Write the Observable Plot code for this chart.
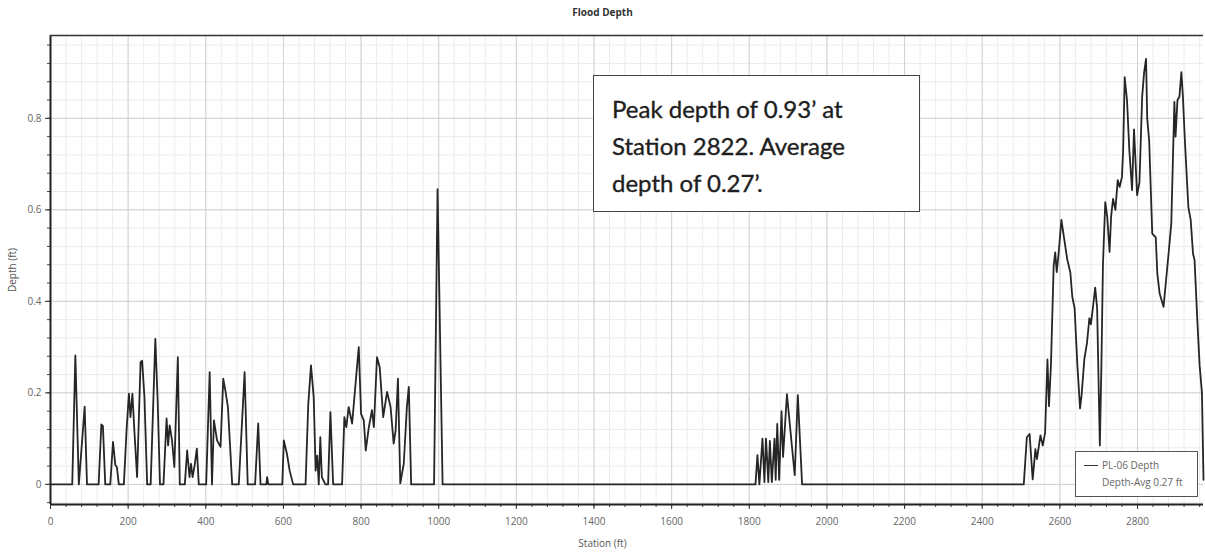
<!DOCTYPE html>
<html>
<head>
<meta charset="utf-8">
<script src="https://cdn.jsdelivr.net/npm/d3@7"></script>
<script src="https://cdn.jsdelivr.net/npm/@observablehq/plot@0.6"></script>
<style>
  html, body { margin: 0; padding: 0; background: #fff; }
  #wrap { position: relative; width: 1205px; height: 552px; overflow: hidden; font-family: "Open Sans", "DejaVu Sans", sans-serif; }
  #wrap svg { position: absolute; left: 0; top: 0; }
  .lbl { position: absolute; color: #555; font-size: 10px; white-space: nowrap; }
  #title { left: 0; width: 1205px; top: 5px; text-align: center; font-weight: bold; color: #333; font-size: 10px; }
  #xlab { left: 0; width: 1205px; top: 536px; text-align: center; }
  #ylab { left: 12px; top: 270px; transform: translate(-50%, -50%) rotate(-90deg); }
  #note { position: absolute; left: 593px; top: 75px; width: 327px; height: 137px; box-sizing: border-box;
          border: 1.5px solid #444; background: #fff; padding: 14px 0 0 18px;
          font-family: Lato, "Open Sans", sans-serif; font-size: 24px; line-height: 37px; color: #1e1e1e;
          -webkit-text-stroke: 0.35px #1e1e1e; }
  #legend { position: absolute; left: 1075px; top: 451px; width: 123px; height: 46px; box-sizing: border-box;
            border: 1px solid #555; background: #fff; font-size: 10px; color: #666; }
  #legend .row { position: absolute; left: 26px; white-space: nowrap; }
  #legend .swatch { position: absolute; left: 8px; top: 13px; width: 14px; height: 0; border-top: 1.5px solid #333; }
</style>
</head>
<body>
<div id="wrap">
  <div id="title" class="lbl"></div>
  <div id="xlab" class="lbl"></div>
  <div id="ylab" class="lbl"></div>
  <div id="note"></div>
  <div id="legend"><div class="swatch"></div><div class="row" id="leg1" style="top:6px"></div><div class="row" id="leg2" style="top:23px"></div></div>
</div>
<script>
// ---- data ----
const titleText = "Flood Depth";
const xLabel = "Station (ft)";
const yLabel = "Depth (ft)";
const noteLines = ["Peak depth of 0.93\u2019 at", "Station 2822. Average", "depth of 0.27\u2019."];
const legendLabels = ["PL-06 Depth", "Depth-Avg 0.27 ft"];
const xTicks = [0, 200, 400, 600, 800, 1000, 1200, 1400, 1600, 1800, 2000, 2200, 2400, 2600, 2800];
const yTicks = [0, 0.2, 0.4, 0.6, 0.8];
const xDomain = [0, 2970];
const yDomain = [-0.044, 0.981];

const stations = [
  0, 56, 64, 73, 88, 94, 124, 131, 135, 141, 154, 161, 167, 171, 176, 189, 196, 202, 206, 211,
  216, 223, 232, 236, 242, 249, 258, 270, 276, 282, 291, 299, 303, 307, 313, 319, 328, 333, 346, 352,
  358, 362, 366, 371, 377, 382, 401, 410, 416, 421, 429, 438, 445, 451, 457, 468, 485, 500, 508, 527,
  535, 541, 556, 558, 561, 597, 601, 609, 616, 625, 657, 664, 671, 678, 683, 687, 691, 695, 699, 708,
  715, 721, 728, 751, 757, 762, 768, 777, 788, 794, 800, 807, 812, 820, 828, 833, 841, 848, 857, 867,
  876, 884, 889, 895, 901, 910, 918, 923, 929, 988, 997, 1010,
  1816, 1821, 1826, 1834, 1839, 1843, 1849, 1853, 1858, 1865, 1868, 1872, 1877, 1883, 1887, 1897, 1917, 1925, 1936,
  2507, 2515, 2522, 2530, 2537, 2541, 2550, 2556, 2562, 2568, 2572, 2577, 2584, 2588, 2592, 2597, 2604, 2610, 2619, 2627,
  2632, 2638, 2645, 2652, 2656, 2663, 2670, 2676, 2680, 2687, 2691, 2696, 2703, 2707, 2711, 2717, 2722, 2728, 2732, 2737,
  2743, 2749, 2754, 2760, 2763, 2767, 2773, 2779, 2786, 2791, 2799, 2805, 2812, 2817, 2822, 2825, 2830, 2838, 2847, 2851,
  2857, 2867, 2874, 2880, 2887, 2895, 2898, 2903, 2908, 2913, 2917, 2922, 2931, 2937, 2943, 2947, 2954, 2960, 2966, 2970
];
const depths = [
  0, 0, 0.282, 0, 0.17, 0, 0, 0.131, 0.128, 0, 0, 0.093, 0.042, 0.038, 0, 0, 0.12, 0.198, 0.147, 0.198,
  0.118, 0.016, 0.267, 0.27, 0.19, 0, 0, 0.318, 0.184, 0, 0, 0.144, 0.085, 0.129, 0.096, 0.038, 0.278, 0, 0, 0.074,
  0.016, 0.045, 0.016, 0.04, 0.078, 0, 0, 0.245, 0, 0.14, 0.096, 0.082, 0.231, 0.202, 0.169, 0, 0, 0.245, 0, 0,
  0.133, 0, 0, 0.016, 0, 0, 0.096, 0.067, 0.03, 0, 0, 0.176, 0.26, 0.19, 0.03, 0.063, 0, 0.103, 0.016, 0,
  0, 0.158, 0, 0, 0.147, 0.125, 0.169, 0.133, 0.242, 0.3, 0.154, 0.14, 0.074, 0.125, 0.162, 0.125, 0.278, 0.256, 0.147, 0.202,
  0.169, 0.089, 0.118, 0.231, 0.002, 0.045, 0.169, 0.213, 0, 0, 0.645, 0,
  0, 0.064, 0, 0.10, 0.005, 0.10, 0.005, 0.095, 0.005, 0.10, 0.01, 0.132, 0.01, 0.16, 0.06, 0.197, 0.02, 0.195, 0,
  0, 0.103, 0.11, 0.011, 0.077, 0.055, 0.107, 0.085, 0.113, 0.273, 0.171, 0.26, 0.477, 0.507, 0.464, 0.507, 0.578, 0.543, 0.492, 0.463,
  0.41, 0.385, 0.262, 0.166, 0.195, 0.273, 0.31, 0.363, 0.35, 0.40, 0.43, 0.385, 0.085, 0.26, 0.48, 0.617, 0.585, 0.508, 0.585, 0.624,
  0.6, 0.665, 0.65, 0.672, 0.73, 0.89, 0.839, 0.73, 0.643, 0.776, 0.632, 0.66, 0.847, 0.90, 0.93, 0.80, 0.752, 0.548, 0.54, 0.461,
  0.417, 0.388, 0.45, 0.504, 0.57, 0.836, 0.76, 0.84, 0.847, 0.901, 0.847, 0.752, 0.606, 0.578, 0.504, 0.49, 0.36, 0.26, 0.2, 0.01
];

const series = stations.map((s, i) => ({station: s, depth: depths[i]}));
const xMinor = d3.range(xDomain[0], xDomain[1] + 1, 40);
const yMinor = d3.range(0, yDomain[1], 0.04).concat(d3.range(-0.04, yDomain[0], -0.04));

const chart = Plot.plot({
  width: 1205,
  height: 552,
  marginLeft: 50,
  marginRight: 2,
  marginTop: 35,
  marginBottom: 48,
  style: {fontFamily: "'Open Sans', 'DejaVu Sans', sans-serif", fontSize: "10px", color: "#555", background: "transparent"},
  x: {domain: xDomain, label: null},
  y: {domain: yDomain, label: null},
  marks: [
    Plot.ruleX(xMinor, {stroke: "#ececec", strokeWidth: 1}),
    Plot.ruleY(yMinor, {stroke: "#ececec", strokeWidth: 1}),
    Plot.ruleX(xTicks, {stroke: "#d2d2d2", strokeWidth: 1}),
    Plot.ruleY(yTicks, {stroke: "#d2d2d2", strokeWidth: 1}),
    Plot.axisX(xMinor, {tickFormat: () => "", tickSize: 3, stroke: "#444", label: null}),
    Plot.axisY(yMinor, {tickFormat: () => "", tickSize: 3, stroke: "#444", label: null}),
    Plot.axisX(xTicks, {tickSize: 5, tickPadding: 8, stroke: "#333", label: null, fill: "#666",
      tickFormat: d => String(d)}),
    Plot.axisY(yTicks, {tickSize: 5, tickPadding: 4, stroke: "#333", label: null, fill: "#666",
      tickFormat: d => d === 0 ? "0" : d3.format(".1f")(d)}),
    Plot.line(series, {x: "station", y: "depth", stroke: "#262626", strokeWidth: 1.8}),
    Plot.ruleX([xDomain[0]], {stroke: "#222", strokeWidth: 2}),
    Plot.ruleY([yDomain[0]], {stroke: "#222", strokeWidth: 2}),
    Plot.ruleY([yDomain[1]], {stroke: "#333", strokeWidth: 1.5})
  ]
});
document.getElementById("wrap").prepend(chart);
document.getElementById("title").textContent = titleText;
document.getElementById("xlab").textContent = xLabel;
document.getElementById("ylab").textContent = yLabel;
document.getElementById("note").innerHTML = noteLines.map(t => `<div>${t}</div>`).join("");
document.getElementById("leg1").textContent = legendLabels[0];
document.getElementById("leg2").textContent = legendLabels[1];
</script>
</body>
</html>
